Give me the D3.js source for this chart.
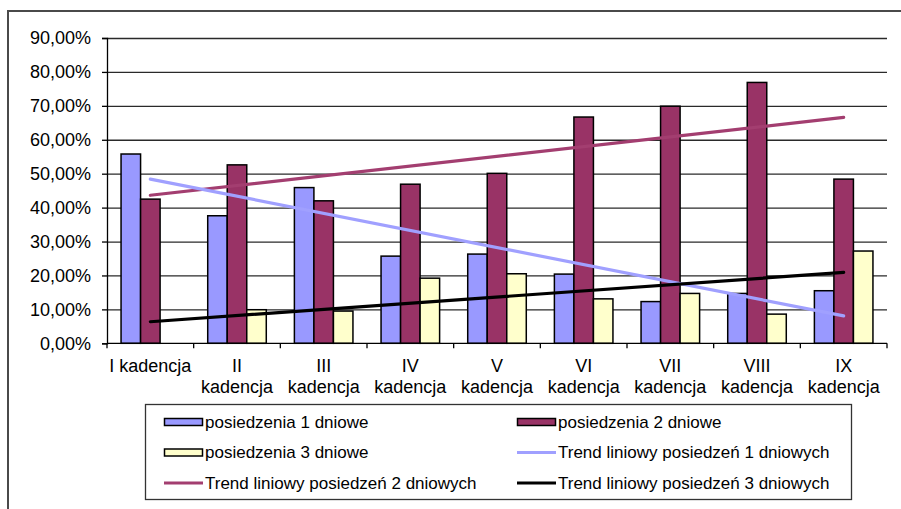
<!DOCTYPE html>
<html>
<head>
<meta charset="utf-8">
<script src="https://cdn.jsdelivr.net/npm/d3@7"></script>
<style>
  html, body { margin: 0; padding: 0; background: #fff; }
  svg { display: block; font-family: "Liberation Sans", Arial, sans-serif; }
</style>
</head>
<body>
<svg id="chart" width="901" height="509"></svg>
<script>
// Kadencje (terms) and share of sittings by length in days
const categories = ["I", "II", "III", "IV", "V", "VI", "VII", "VIII", "IX"];
const categoryLabels = [
  ["I kadencja"], ["II", "kadencja"], ["III", "kadencja"], ["IV", "kadencja"],
  ["V", "kadencja"], ["VI", "kadencja"], ["VII", "kadencja"], ["VIII", "kadencja"], ["IX", "kadencja"]
];
const oneDay   = [0.558, 0.376, 0.459, 0.257, 0.263, 0.204, 0.123, 0.147, 0.155];
const twoDay   = [0.425, 0.526, 0.420, 0.469, 0.501, 0.667, 0.699, 0.769, 0.484];
const threeDay = [0.000, 0.099, 0.095, 0.192, 0.205, 0.131, 0.147, 0.086, 0.272];
const yTicks = [0, 0.1, 0.2, 0.3, 0.4, 0.5, 0.6, 0.7, 0.8, 0.9];

const seriesNames = ["posiedzenia 1 dniowe", "posiedzenia 2 dniowe", "posiedzenia 3 dniowe"];
const trendNames = [
  "Trend liniowy posiedzeń 1 dniowych",
  "Trend liniowy posiedzeń 2 dniowych",
  "Trend liniowy posiedzeń 3 dniowych"
];
const barColors = ["#9999FF", "#993366", "#FFFFCC"];
const trendColors = ["#A0A0FF", "#A33E70", "#000000"];

const svg = d3.select("#chart");
const plot = { left: 107, right: 887, top: 38, bottom: 343.3 };

// outer frame
svg.append("path")
  .attr("d", `M8,509 L8,11 L901,11`)
  .attr("fill", "none").attr("stroke", "#4a4a4a").attr("stroke-width", 2);

const x = d3.scaleBand().domain(categories).range([plot.left, plot.right]).padding(0);
const inner = d3.scaleBand().domain([0, 1, 2]).range([0, x.bandwidth()])
  .paddingInner(0).paddingOuter(0.72);
const y = d3.scaleLinear().domain([0, 0.9]).range([plot.bottom, plot.top]);

const pct = v => d3.format(".2f")(v * 100).replace(".", ",") + "%";

// gridlines
svg.append("g")
  .attr("transform", `translate(${plot.left},0)`)
  .call(d3.axisLeft(y).tickValues(yTicks.filter(t => t > 0)).tickSize(-(plot.right - plot.left)).tickFormat(""))
  .call(g => g.select(".domain").remove())
  .call(g => g.selectAll("line").attr("stroke", "#2a2a2a").attr("stroke-width", 1.3));

// y axis
svg.append("g")
  .attr("transform", `translate(${plot.left},0)`)
  .call(d3.axisLeft(y).tickValues(yTicks).tickSize(5).tickPadding(11).tickFormat(pct))
  .call(g => g.select(".domain").attr("stroke", "#000").attr("stroke-width", 1.3))
  .call(g => g.selectAll("line").attr("stroke", "#000").attr("stroke-width", 1.3))
  .call(g => g.selectAll("text").attr("font-size", 18).attr("fill", "#000")
    .attr("font-family", "'Liberation Sans', Arial, sans-serif"));

// bars
const seriesData = [oneDay, twoDay, threeDay];
seriesData.forEach((vals, si) => {
  svg.append("g").selectAll("rect")
    .data(vals.map((v, i) => ({ v, c: categories[i] })).filter(d => d.v > 0))
    .join("rect")
    .attr("x", d => x(d.c) + inner(si))
    .attr("width", inner.bandwidth())
    .attr("y", d => y(d.v))
    .attr("height", d => y(0) - y(d.v))
    .attr("fill", barColors[si])
    .attr("stroke", "#000")
    .attr("stroke-width", 1.5);
});

// x axis line and boundary ticks
svg.append("line")
  .attr("x1", plot.left).attr("x2", plot.right)
  .attr("y1", y(0)).attr("y2", y(0))
  .attr("stroke", "#000").attr("stroke-width", 1.3);
const boundaries = categories.map(c => x(c)).concat([plot.right]);
svg.append("g").selectAll("line").data(boundaries).join("line")
  .attr("x1", d => d).attr("x2", d => d)
  .attr("y1", y(0)).attr("y2", y(0) + 5)
  .attr("stroke", "#000").attr("stroke-width", 1.3);

// category labels
const labels = svg.append("g").attr("font-size", 18).attr("fill", "#000").attr("text-anchor", "middle");
categories.forEach((c, i) => {
  const t = labels.append("text").attr("x", x(c) + x.bandwidth() / 2).attr("y", 372);
  categoryLabels[i].forEach((line, li) => {
    t.append("tspan").attr("x", x(c) + x.bandwidth() / 2).attr("dy", li === 0 ? 0 : 21).text(line);
  });
});

// linear trend lines (least squares over term index 1..n)
function linearFit(vals) {
  const xs = vals.map((_, i) => i + 1);
  const mx = d3.mean(xs), my = d3.mean(vals);
  const sxy = d3.sum(xs, (xi, i) => (xi - mx) * (vals[i] - my));
  const sxx = d3.sum(xs, xi => (xi - mx) * (xi - mx));
  const slope = sxy / sxx;
  return xi => my + slope * (xi - mx);
}
const cx = c => x(c) + x.bandwidth() / 2;
const trendLine = d3.line().x(d => d[0]).y(d => y(d[1]));
[1, 0, 2].forEach(si => {
  const f = linearFit(seriesData[si]);
  const n = categories.length;
  const pts = [[cx(categories[0]), f(1)], [cx(categories[n - 1]), f(n)]];
  svg.append("path")
    .attr("d", trendLine(pts))
    .attr("fill", "none")
    .attr("stroke", trendColors[si])
    .attr("stroke-width", 3.2)
    .attr("stroke-linecap", "round");
});

// legend
const legend = svg.append("g");
legend.append("rect")
  .attr("x", 145.5).attr("y", 404.5).attr("width", 706).attr("height", 95)
  .attr("fill", "#fff").attr("stroke", "#333").attr("stroke-width", 1.3);

const legendItems = [
  { type: "bar", color: barColors[0], label: seriesNames[0] },
  { type: "bar", color: barColors[1], label: seriesNames[1] },
  { type: "bar", color: barColors[2], label: seriesNames[2] },
  { type: "line", color: trendColors[0], label: trendNames[0] },
  { type: "line", color: trendColors[1], label: trendNames[1] },
  { type: "line", color: trendColors[2], label: trendNames[2] }
];
const colX = [164, 517];
const rowY = [422, 452.5, 483];
legendItems.forEach((it, i) => {
  const gx = colX[i % 2], gy = rowY[Math.floor(i / 2)];
  const g = legend.append("g").attr("transform", `translate(${gx},${gy})`);
  if (it.type === "bar") {
    g.append("rect").attr("x", 0.5).attr("y", -3.5).attr("width", 38).attr("height", 7)
      .attr("fill", it.color).attr("stroke", "#000").attr("stroke-width", 1.5);
  } else {
    g.append("line").attr("x1", 0).attr("x2", 39).attr("y1", 0).attr("y2", 0)
      .attr("stroke", it.color).attr("stroke-width", 3.2);
  }
  g.append("text").attr("x", 41).attr("y", 0).attr("dy", "0.35em")
    .attr("font-size", 17).attr("fill", "#000").text(it.label);
});
</script>
</body>
</html>
